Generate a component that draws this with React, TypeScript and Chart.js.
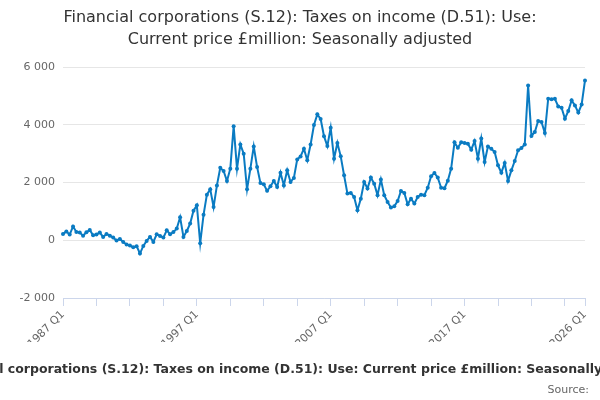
import { useEffect, useRef } from "react"
import { Chart, registerables } from "chart.js"

Chart.register(...registerables)

// quarters from 1987 Q1 to 2026 Q1
const firstYear = 1987
const lastYear = 2026
const quarterLabels: string[] = []
for (let y = firstYear; y <= lastYear; y++) {
  for (let q = 1; q <= 4; q++) {
    if (y === lastYear && q > 1) break
    quarterLabels.push(`${y} Q${q}`)
  }
}

// £million, seasonally adjusted
const taxValues = [
  220, 300, 196, 480, 288, 265, 160, 275, 355, 173,
  200, 265, 115, 220, 160, 92, -10, 45, -58, -145,
  -185, -240, -205, -460, -196, -23, 115, -58, 208, 150,
  92, 346, 208, 288, 404, 795, 115, 320, 577, 1025,
  1211, -105, 880, 1580, 1770, 1150, 1900, 2510, 2400, 2050,
  2480, 3950, 2480, 3320, 3000, 1765, 2480, 3250, 2540, 1980,
  1940, 1710, 1870, 2050, 1845, 2340, 1900, 2420, 2020, 2160,
  2800, 2900, 3170, 2770, 3315, 3990, 4360, 4200, 3605, 3260,
  3900, 2825, 3370, 2905, 2250, 1615, 1640, 1500, 1040, 1440,
  2020, 1790, 2170, 1960, 1560, 2100, 1560, 1325, 1130, 1175,
  1360, 1705, 1640, 1245, 1440, 1270, 1500, 1580, 1560, 1820,
  2215, 2330, 2170, 1820, 1800, 2060, 2480, 3390, 3205, 3390,
  3370, 3345, 3135, 3435, 2825, 3520, 2710, 3250, 3170, 3055,
  2595, 2340, 2675, 2055, 2420, 2745, 3115, 3195, 3320, 5360,
  3610, 3750, 4130, 4095, 3715, 4900, 4880, 4900, 4635, 4590,
  4210, 4475, 4845, 4670, 4420, 4705, 5535,
]

const yTickValues = [-2000, 0, 2000, 4000, 6000]

const titleLines = [
  "Financial corporations (S.12): Taxes on income (D.51): Use:",
  "Current price £million: Seasonally adjusted",
]
const footerTitle =
  "Financial corporations (S.12): Taxes on income (D.51): Use: Current price £million: Seasonally adjusted"

const FONT = "'DejaVu Sans', sans-serif"

const textPlugin = {
  id: "textPlugin",
  afterDraw(chart: any) {
    const { ctx, width } = chart
    ctx.save()
    ctx.textBaseline = "middle"
    ctx.fillStyle = "#333333"
    ctx.textAlign = "center"
    ctx.font = `16px ${FONT}`
    ctx.fillText(titleLines[0], width / 2, 18)
    ctx.fillText(titleLines[1], width / 2, 40)
    ctx.font = `bold 12.5px ${FONT}`
    ctx.fillText(footerTitle, width / 2 + 4, 370)
    ctx.font = `11px ${FONT}`
    ctx.fillStyle = "#666666"
    ctx.textAlign = "right"
    ctx.fillText("Source:", width - 11, 390)
    ctx.restore()
  },
}

function formatThousands(v: number) {
  const s = Math.abs(v).toString().replace(/\B(?=(\d{3})+(?!\d))/g, " ")
  return v < 0 ? "-" + s : s
}

export default function App() {
  const chartRef = useRef<HTMLCanvasElement>(null)
  const chartInstance = useRef<Chart | null>(null)

  useEffect(() => {
    document.body.style.margin = "0"
    if (!chartRef.current) return

    if (chartInstance.current) {
      chartInstance.current.destroy()
    }

    const lastIndex = quarterLabels.length - 1
    const ctx = chartRef.current.getContext("2d")
    if (ctx) {
      chartInstance.current = new Chart(ctx, {
        type: "line",
        data: {
          labels: quarterLabels,
          datasets: [
            {
              label: "Taxes on income",
              data: taxValues,
              borderColor: "#0a7bc2",
              backgroundColor: "#0a7bc2",
              borderWidth: 2,
              pointRadius: 2,
              pointBorderWidth: 0,
              pointHoverRadius: 2,
              tension: 0,
            },
          ],
        },
        options: {
          animation: false,
          responsive: true,
          maintainAspectRatio: false,
          layout: {
            padding: { top: 67, right: 15, bottom: 58, left: 0 },
          },
          plugins: {
            legend: { display: false },
            title: { display: false },
            tooltip: { enabled: false },
          },
          scales: {
            x: {
              grid: {
                drawOnChartArea: false,
                tickLength: 8,
                color: (c: any) =>
                  c.index % 10 === 0 || c.index === lastIndex ? "#ccd6eb" : "rgba(0,0,0,0)",
              },
              border: { color: "#ccd6eb" },
              ticks: {
                autoSkip: false,
                maxRotation: 45,
                minRotation: 45,
                padding: 2,
                color: "#666666",
                font: { family: FONT, size: 11 },
                callback: (_v: any, index: number) =>
                  index % 40 === 0 || index === lastIndex ? quarterLabels[index] : "",
              },
              afterFit: (scale: any) => {
                scale.height = 44
              },
            },
            y: {
              min: yTickValues[0],
              max: yTickValues[yTickValues.length - 1],
              afterBuildTicks: (scale: any) => {
                scale.ticks = yTickValues.map((v) => ({ value: v }))
              },
              grid: { color: "#e6e6e6", tickLength: 0 },
              border: { display: false },
              ticks: {
                padding: 8,
                color: "#666666",
                font: { family: FONT, size: 11 },
                callback: (v: any) => formatThousands(Number(v)),
              },
              afterFit: (scale: any) => {
                scale.width = 63
              },
            },
          },
        },
        plugins: [textPlugin],
      })
    }

    return () => {
      if (chartInstance.current) {
        chartInstance.current.destroy()
        chartInstance.current = null
      }
    }
  }, [])

  return (
    <div style={{ width: 600, height: 400, position: "relative" }}>
      <canvas ref={chartRef} />
    </div>
  )
}
